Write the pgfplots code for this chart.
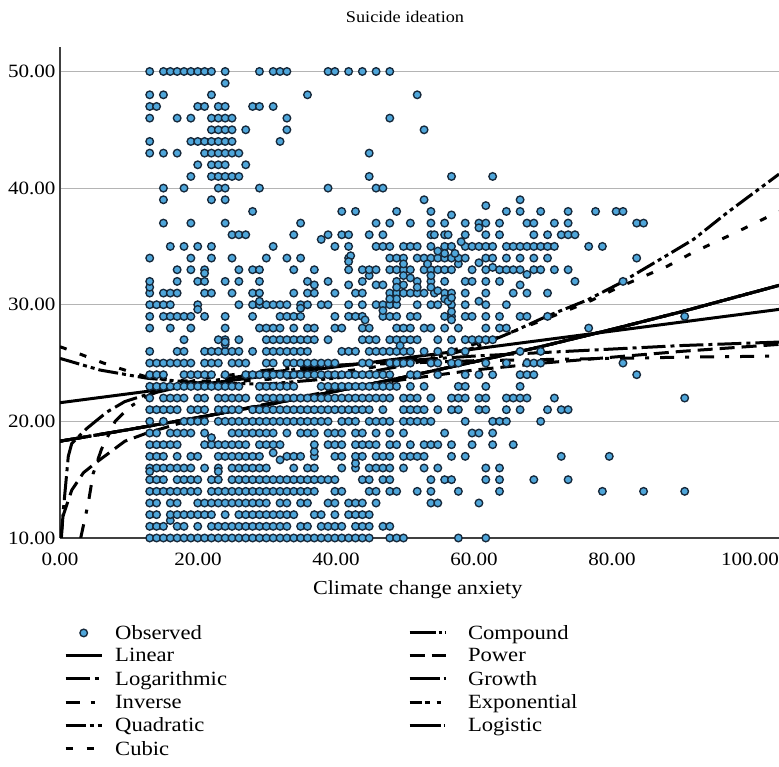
\documentclass[border=0pt]{standalone}
\usepackage{fontspec}
\setmainfont[FakeStretch=1.12]{Liberation Serif}
\usepackage{pgfplots}
\pgfplotsset{compat=1.18}
\definecolor{ptfill}{HTML}{4FA6DA}
\definecolor{ptedge}{HTML}{16283A}
\definecolor{axline}{HTML}{404040}
\definecolor{gridl}{HTML}{B4B4B4}
\begin{document}
\begin{tikzpicture}[x=1bp,y=1bp]
\path[use as bounding box] (0,0) rectangle (779,767);
\node[font=\fontsize{16.3bp}{20bp}\selectfont,anchor=center] at (405,750) {Suicide ideation};
\begin{axis}[
 at={(60bp,229bp)},anchor=south west,scale only axis,width=719bp,height=491bp,
 xmin=0,xmax=104.2,ymin=10,ymax=52.1,
 axis lines=left,axis line style={-,color=axline,line width=1.3bp},
 xtick={0,20,40,60,80,100},ytick={10,20,30,40,50},
 major tick length=0pt,
 ymajorgrids,grid style={color=gridl,line width=1.2bp},
 tick label style={font=\fontsize{18.8bp}{20bp}\selectfont,/pgf/number format/assume math mode=true,/pgf/number format/fixed,/pgf/number format/fixed zerofill,/pgf/number format/precision=2},
 xticklabel style={yshift=-11bp},yticklabel style={xshift=-1bp},
 xlabel={Climate change anxiety},
 xlabel style={font=\fontsize{19.8bp}{20bp}\selectfont,at={(axis description cs:0.4975,0)},anchor=center,yshift=-52bp},
 legend columns=6,transpose legend,
 legend cell align=left,
 legend style={at={(4bp,-85bp)},anchor=north west,draw=none,fill=none,font=\fontsize{20.2bp}{20bp}\selectfont,inner sep=0pt,
  row sep=3.8bp,/tikz/every odd column/.append style={column sep=10bp},/tikz/every even column/.append style={column sep=179bp}},
 legend image code/.code={\draw[#1] (0bp,0bp) -- (36bp,0bp);},
]
\addplot[only marks,mark=*,mark size=3.8bp,mark options={fill=ptfill,draw=ptedge,line width=1.35bp},
 legend image code/.code={\draw[only marks,mark=*,mark size=3.8bp,mark options={fill=ptfill,draw=ptedge,line width=1.35bp}] plot coordinates {(18bp,0bp)};}]
 table[row sep=\\,x expr=\thisrow{x}*0.994+0.08,y=y] {
x y\\
13 10\\14 10\\15 10\\16 10\\17 10\\18 10\\19 10\\20 10\\21 10\\22 10\\23 10\\24 10\\25 10\\26 10\\27 10\\28 10\\29 10\\30 10\\31 10\\32 10\\33 10\\34 10\\35 10\\36 10\\37 10\\38 10\\39 10\\40 10\\41 10\\42 10\\43 10\\44 10\\45 10\\48 10\\49 10\\50 10\\58 10\\62 10\\
13 11\\14 11\\15 11\\17 11\\18 11\\20 11\\22 11\\23 11\\24 11\\25 11\\26 11\\27 11\\28 11\\29 11\\30 11\\31 11\\32 11\\33 11\\35 11\\36 11\\38 11\\39 11\\40 11\\41 11\\43 11\\44 11\\45 11\\47 11\\48 11\\16 11.5\\
13 12\\14 12\\16 12\\17 12\\18 12\\19 12\\20 12\\21 12\\22 12\\24 12\\26 12\\27 12\\28 12\\29 12\\30 12\\31 12\\32 12\\33 12\\34 12\\37 12\\38 12\\40 12\\42 12\\43 12\\44 12\\45 12\\
13 13\\14 13\\16 13\\17 13\\20 13\\21 13\\22 13\\23 13\\24 13\\25 13\\26 13\\27 13\\28 13\\29 13\\30 13\\32 13\\33 13\\35 13\\36 13\\39 13\\40 13\\42 13\\43 13\\44 13\\46 13\\54 13\\55 13\\61 13\\
13 14\\14 14\\15 14\\16 14\\17 14\\18 14\\19 14\\20 14\\22 14\\23 14\\24 14\\25 14\\26 14\\27 14\\28 14\\29 14\\30 14\\31 14\\32 14\\33 14\\34 14\\35 14\\36 14\\37 14\\40 14\\41 14\\45 14\\46 14\\48 14\\49 14\\52 14\\54 14\\58 14\\64 14\\79 14\\85 14\\91 14\\
13 15\\14 15\\15 15\\17 15\\18 15\\19 15\\20 15\\22 15\\23 15\\25 15\\26 15\\27 15\\28 15\\29 15\\30 15\\31 15\\32 15\\33 15\\34 15\\35 15\\36 15\\37 15\\38 15\\39 15\\40 15\\44 15\\45 15\\47 15\\48 15\\54 15\\56 15\\57 15\\62 15\\64 15\\69 15\\74 15\\
13 16\\14 16\\15 16\\16 16\\17 16\\18 16\\19 16\\21 16\\23 16\\25 16\\26 16\\27 16\\28 16\\29 16\\30 16\\34 16\\36 16\\37 16\\41 16\\43 16\\45 16\\46 16\\47 16\\48 16\\50 16\\53 16\\55 16\\62 16\\64 16\\13 15.7\\23 15.7\\43 16.4\\
13 17\\14 17\\15 17\\17 17\\19 17\\20 17\\23 17\\24 17\\25 17\\26 17\\27 17\\28 17\\29 17\\33 17\\34 17\\35 17\\37 17\\40 17\\41 17\\43 17\\44 17\\46 17\\47 17\\48 17\\50 17\\51 17\\52 17\\53 17\\57 17\\59 17\\73 17\\80 17\\31 17.3\\32 16.7\\37 17.4\\
13 18\\14 18\\15 18\\16 18\\17 18\\21 18\\22 18\\23 18\\24 18\\25 18\\26 18\\27 18\\29 18\\30 18\\31 18\\32 18\\37 18\\39 18\\40 18\\41 18\\43 18\\44 18\\45 18\\46 18\\48 18\\49 18\\51 18\\53 18\\54 18\\55 18\\57 18\\60 18\\63 18\\66 18\\
13 19\\14 19\\16 19\\17 19\\18 19\\19 19\\21 19\\25 19\\26 19\\27 19\\28 19\\29 19\\30 19\\31 19\\33 19\\35 19\\36 19\\37 19\\39 19\\40 19\\41 19\\43 19\\44 19\\46 19\\48 19\\50 19\\56 19\\60 19\\61 19\\63 19\\22 18.6\\
13 20\\15 20\\18 20\\19 20\\20 20\\21 20\\23 20\\24 20\\25 20\\26 20\\27 20\\28 20\\29 20\\30 20\\31 20\\32 20\\33 20\\34 20\\35 20\\36 20\\37 20\\38 20\\39 20\\41 20\\42 20\\43 20\\45 20\\46 20\\47 20\\48 20\\50 20\\51 20\\52 20\\53 20\\54 20\\59 20\\63 20\\64 20\\65 20\\70 20\\
13 21\\14 21\\15 21\\16 21\\17 21\\19 21\\20 21\\21 21\\23 21\\24 21\\25 21\\26 21\\28 21\\29 21\\30 21\\31 21\\32 21\\33 21\\34 21\\35 21\\36 21\\37 21\\38 21\\39 21\\40 21\\41 21\\42 21\\43 21\\44 21\\45 21\\47 21\\50 21\\51 21\\52 21\\53 21\\55 21\\57 21\\58 21\\61 21\\62 21\\65 21\\67 21\\71 21\\73 21\\74 21\\
13 22\\15 22\\16 22\\17 22\\18 22\\20 22\\21 22\\23 22\\24 22\\25 22\\26 22\\27 22\\29 22\\30 22\\31 22\\32 22\\33 22\\34 22\\35 22\\36 22\\37 22\\38 22\\39 22\\40 22\\41 22\\42 22\\43 22\\44 22\\45 22\\46 22\\47 22\\48 22\\50 22\\51 22\\52 22\\54 22\\57 22\\58 22\\59 22\\61 22\\62 22\\65 22\\66 22\\67 22\\68 22\\72 22\\91 22\\
13 23\\14 23\\15 23\\16 23\\17 23\\18 23\\19 23\\20 23\\21 23\\22 23\\23 23\\24 23\\25 23\\26 23\\29 23\\30 23\\31 23\\32 23\\33 23\\34 23\\38 23\\39 23\\40 23\\41 23\\42 23\\43 23\\44 23\\45 23\\46 23\\47 23\\48 23\\49 23\\51 23\\53 23\\58 23\\59 23\\62 23\\67 23\\
13 24\\14 24\\15 24\\18 24\\19 24\\20 24\\21 24\\22 24\\24 24\\27 24\\28 24\\29 24\\30 24\\31 24\\32 24\\33 24\\34 24\\35 24\\36 24\\37 24\\38 24\\39 24\\40 24\\41 24\\42 24\\43 24\\44 24\\45 24\\46 24\\47 24\\48 24\\51 24\\52 24\\55 24\\59 24\\61 24\\63 24\\67 24\\68 24\\69 24\\84 24\\
13 25\\14 25\\15 25\\16 25\\17 25\\18 25\\19 25\\21 25\\22 25\\23 25\\25 25\\26 25\\27 25\\30 25\\31 25\\33 25\\34 25\\35 25\\36 25\\37 25\\38 25\\39 25\\40 25\\44 25\\45 25\\48 25\\49 25\\50 25\\51 25\\54 25\\55 25\\57 25\\58 25\\62 25\\65 25\\68 25\\69 25\\70 25\\82 25\\
13 26\\17 26\\18 26\\21 26\\22 26\\23 26\\24 26\\25 26\\26 26\\28 26\\30 26\\31 26\\32 26\\33 26\\34 26\\35 26\\36 26\\41 26\\42 26\\43 26\\45 26\\46 26\\47 26\\48 26\\49 26\\50 26\\51 26\\53 26\\55 26\\57 26\\59 26\\67 26\\70 26\\
18 27\\23 27\\24 27\\26 27\\30 27\\31 27\\32 27\\33 27\\34 27\\35 27\\36 27\\37 27\\39 27\\44 27\\45 27\\46 27\\48 27\\49 27\\50 27\\51 27\\52 27\\55 27\\57 27\\59 27\\60 27\\61 27\\62 27\\63 27\\24 26.6\\24 26.8\\49.5 26.5\\
13 28\\16 28\\19 28\\24 28\\29 28\\30 28\\31 28\\32 28\\34 28\\36 28\\37 28\\40 28\\41 28\\44 28\\45 28\\49 28\\50 28\\51 28\\53 28\\54 28\\56 28\\58 28\\62 28\\64 28\\65 28\\77 28\\
13 29\\15 29\\16 29\\17 29\\18 29\\19 29\\21 29\\24 29\\28 29\\32 29\\33 29\\34 29\\35 29\\40 29\\42 29\\43 29\\44 29\\47 29\\48 29\\49 29\\51 29\\52 29\\56 29\\57 29\\59 29\\60 29\\62 29\\64 29\\67 29\\68 29\\71 29\\91 29\\44.4 28.7\\57 28.7\\
13 30\\14 30\\15 30\\16 30\\20 30\\26 30\\28 30\\29 30\\30 30\\31 30\\32 30\\33 30\\35 30\\36 30\\38 30\\39 30\\42 30\\44 30\\46 30\\47 30\\48 30\\49 30\\52 30\\54 30\\55 30\\57 30\\59 30\\62 30\\65 30\\20 29.6\\29 30.3\\35 29.7\\61 30.3\\
13 31\\15 31\\16 31\\17 31\\21 31\\22 31\\25 31\\28 31\\29 31\\34 31\\36 31\\37 31\\40 31\\43 31\\44 31\\48 31\\49 31\\50 31\\51 31\\52 31\\53 31\\54.5 31\\56 31\\57 31\\59 31\\62 31\\66 31\\68 31\\71 31\\13 31.5\\
13 32\\17 32\\20 32\\21 32\\24 32\\26 32\\29 32\\36 32\\39 32\\44 32\\49 32\\52 32\\54 32\\56 32\\59 32\\60 32\\62 32\\64 32\\75 32\\82 32\\37 31.7\\42 31.7\\46 31.7\\47 31.7\\50 31.7\\67 31.7\\45 32.5\\
17 33\\19 33\\21 33\\26 33\\28 33\\29 33\\34 33\\37 33\\42 33\\44 33\\45 33\\46 33\\48 33\\49 33\\50 33\\51 33\\53 33\\54 33\\55 33\\56 33\\57 33\\60 33\\62 33\\64 33\\65 33\\66 33\\67 33\\69 33\\70 33\\72 33\\74 33\\58 33.5\\61 33.6\\63 33.2\\68 32.6\\21 32.7\\
13 34\\19 34\\22 34\\25 34\\30 34\\33 34\\35 34\\42 34\\48 34\\49 34\\50 34\\52 34\\53 34\\54 34\\55 34\\56 34\\57 34\\58 34\\59 34\\62 34\\63 34\\65 34\\67 34\\69 34\\71 34\\84 34\\42.3 34.2\\
16 35\\18 35\\20 35\\22 35\\31 35\\40 35\\42 35\\46 35\\47 35\\48 35\\50 35\\51 35\\52 35\\54 35\\56 35\\57 35\\59 35\\60 35\\61 35\\62 35\\63 35\\65 35\\66 35\\67 35\\68 35\\69 35\\70 35\\71 35\\72 35\\77 35\\79 35\\38 35.6\\58.4 35.4\\
25 36\\26 36\\27 36\\34 36\\39 36\\41 36\\42 36\\45 36\\47 36\\54 36\\54.5 36\\56 36\\56.5 36\\59 36\\62 36\\64 36\\69 36\\71 36\\73 36\\74 36\\75 36\\
15 37\\19 37\\24 37\\35 37\\46 37\\48 37\\51 37\\54 37\\56 37\\59 37\\61 37\\62 37\\64 37\\68 37\\69 37\\72 37\\74 37\\84 37\\85 37\\61 36.6\\
28 38\\41 38\\43 38\\49 38\\54 38\\65 38\\67 38\\70 38\\74 38\\78 38\\81 38\\82 38\\57 37.7\\
15 39\\22 39\\24 39\\53 39\\67 39\\62 38.5\\
15 40\\18 40\\23 40\\24 40\\29 40\\39 40\\46 40\\47 40\\
19 41\\22 41\\23 41\\24 41\\25 41\\26 41\\45 41\\57 41\\63 41\\
20 42\\22 42\\23 42\\24 42\\27 42\\
13 43\\15 43\\17 43\\21 43\\22 43\\23 43\\24 43\\25 43\\26 43\\45 43\\
13 44\\19 44\\20 44\\21 44\\22 44\\23 44\\24 44\\25 44\\32 44\\
22 45\\23 45\\24 45\\25 45\\27 45\\33 45\\53 45\\
13 46\\17 46\\19 46\\22 46\\23 46\\24 46\\25 46\\33 46\\48 46\\
13 47\\14 47\\20 47\\21 47\\23 47\\24 47\\28 47\\29 47\\31 47\\
13 48\\15 48\\22 48\\36 48\\52 48\\
24 49\\
13 50\\15 50\\16 50\\17 50\\18 50\\19 50\\20 50\\21 50\\22 50\\24 50\\29 50\\31 50\\32 50\\33 50\\39 50\\40 50\\42 50\\44 50\\46 50\\48 50\\
54 31.5\\54 32.5\\53.5 33.5\\55 31.2\\56 30.5\\56.5 30.3\\57 29.4\\57 30.6\\57.5 34.4\\56 34.4\\55 34.6\\50 33.5\\50 32.5\\51 32.3\\52 31.5\\49 31.5\\49 30.5\\48 30.5\\47 29.5\\42 33.7\\
};
\addlegendentry{Observed}
% Linear
\addplot[black,line width=3bp] coordinates {(0,21.6) (20,23.14) (40,24.67) (60,26.2) (80,27.74) (104.2,29.6)};
\addlegendentry{Linear}
% Logarithmic
\addplot[black,line width=3bp,dash pattern=on 24bp off 5bp on 4bp off 5bp] coordinates {(0.2,10) (0.5,12.5) (1.2,17) (1.7,18.1) (3.9,19.4) (6.8,20.8) (9.4,21.7) (12.6,22.3) (20,23.3) (30,24.2) (40,24.8) (50,25.2) (60,25.6) (70,25.9) (80,26.2) (90,26.5) (104.2,26.8)};
\addlegendentry{Logarithmic}
% Inverse
\addplot[black,line width=3bp,dash pattern=on 14bp off 11bp on 4bp off 11bp] coordinates {(3.0,10) (4.1,13) (4.8,15.5) (6,17.6) (8,20) (10,21.2) (13,22.3) (20,23.6) (30,24.4) (40,24.8) (50,25) (60,25.2) (70,25.3) (80,25.4) (90,25.5) (104.2,25.6)};
\addlegendentry{Inverse}
% Quadratic
\addplot[black,line width=3bp,dash pattern=on 20bp off 4bp on 4bp off 4bp on 4bp off 4bp] coordinates {(0,25.4) (5.8,24.4) (12.6,23.7) (20,23.3) (30,23.2) (40,23.7) (50,24.8) (60,26.3) (65.7,27.7) (70.5,29) (76.4,30.4) (81,31.8) (87,33.9) (91.8,35.6) (96.7,37.9) (104.2,41.2)};
\addlegendentry{Quadratic}
% Cubic
\addplot[black,line width=3bp,dash pattern=on 7bp off 14bp] coordinates {(0,26.4) (1.9,26) (6.3,25) (10.4,24.2) (12.6,23.8) (16.4,23.5) (25,23.4) (35,23.8) (45,24.6) (55,25.8) (63,27.1) (70.5,28.8) (76.4,30.2) (81,31.5) (88,33.3) (91.8,34.5) (97.6,36.1) (104.2,38)};
\addlegendentry{Cubic}
% Compound
\addplot[black,line width=3bp,dash pattern=on 26bp off 3bp on 3bp off 3bp] coordinates {(0,18.3) (10,19.3) (20,20.33) (30,21.43) (40,22.59) (50,23.81) (60,25.1) (70,26.45) (80,27.89) (90,29.39) (104.2,31.66)};
\addlegendentry{\hspace*{9bp}Compound}
% Power
\addplot[black,line width=3bp,dash pattern=on 15bp off 7bp] coordinates {(0.1,10) (0.5,12) (1.7,14.1) (3.4,15.6) (5.3,16.5) (9.4,18.3) (12.6,19) (20,20.3) (30,21.5) (40,22.7) (50,23.6) (60,24.4) (70,25) (80,25.5) (90,26) (104.2,26.6)};
\addlegendentry{\hspace*{9bp}Power}
% Growth
\addplot[black,line width=3bp,dash pattern=on 30bp off 4bp] coordinates {(0,18.3) (10,19.3) (20,20.33) (30,21.43) (40,22.59) (50,23.81) (60,25.1) (70,26.45) (80,27.89) (90,29.39) (104.2,31.66)};
\addlegendentry{\hspace*{9bp}Growth}
% Exponential
\addplot[black,line width=3bp,dash pattern=on 12bp off 3bp on 5bp off 7bp on 4bp off 7bp] coordinates {(0,18.3) (10,19.3) (20,20.33) (30,21.43) (40,22.59) (50,23.81) (60,25.1) (70,26.45) (80,27.89) (90,29.39) (104.2,31.66)};
\addlegendentry{\hspace*{9bp}Exponential}
% Logistic
\addplot[black,line width=3bp,dash pattern=on 31bp off 3bp on 1.5bp off 3bp] coordinates {(0,18.3) (10,19.3) (20,20.33) (30,21.43) (40,22.59) (50,23.81) (60,25.1) (70,26.45) (80,27.89) (90,29.39) (104.2,31.66)};
\addlegendentry{\hspace*{9bp}Logistic}
\end{axis}
\end{tikzpicture}
\end{document}
